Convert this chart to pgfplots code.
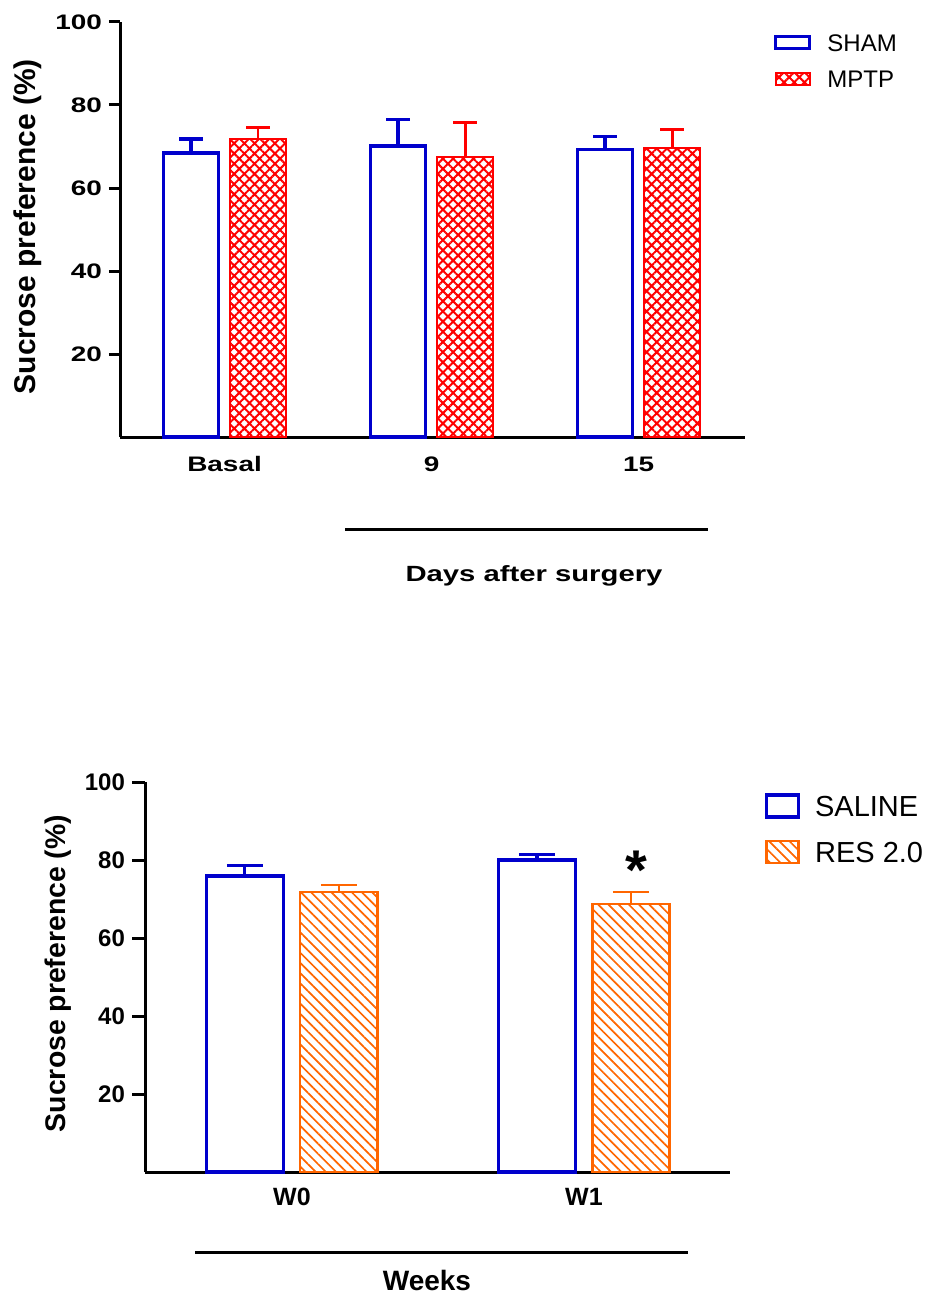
\documentclass[border=0pt]{standalone}
\usepackage{fontspec}
\setmainfont{Liberation Sans}
\newfontfamily\widesans[FakeStretch=1.33]{Liberation Sans}
\usepackage{pgfplots}
\pgfplotsset{compat=1.18}
\usetikzlibrary{patterns.meta}
\definecolor{gblue}{RGB}{0,0,204}
\definecolor{gred}{RGB}{255,0,0}
\definecolor{gorange}{RGB}{255,102,0}

\pgfplotsset{
 gpbase/.style={
  scale only axis, clip=false,
  axis lines=left, axis line style={-, line width=1.5pt, black},
  ymin=0, ymax=100, ytick={20,40,60,80,100},
  tick align=outside, ytick style={line width=1.5pt, black},
  xtick style={draw=none},
  /pgf/number format/assume math mode=true,
  legend cell align=left,
 }
}

\begin{document}
\begin{tikzpicture}
\path[use as bounding box] (0,0) rectangle (466.5pt,-647pt);

% ---------------- top panel ----------------
\begin{axis}[gpbase, at={(60pt,-218.5pt)}, anchor=south west,
 width=312.5pt, height=207.5pt,
 xmin=-0.505, xmax=2.514,
 xtick={0,1,2}, xticklabels={Basal,9,15},
 major tick length=5.5pt,
 yticklabel style={font=\fontsize{10.5}{12}\widesans\bfseries},
 xticklabel style={font=\fontsize{10.5}{12}\widesans\bfseries, anchor=base, yshift=-11.5pt},
 ylabel={Sucrose preference (\%)},
 ylabel style={font=\fontsize{15}{17}\selectfont\bfseries, at={(axis description cs:-0.147,0.507)}, anchor=center},
 legend image code/.code={\draw[#1] (0pt,-3pt) rectangle (17pt,3pt);},
 legend style={at={(axis description cs:1.046,0.972)}, anchor=north west, draw=none, fill=none, inner sep=0pt, row sep=9.75pt, column sep=8pt, font=\fontsize{12}{14}\selectfont, nodes={inner sep=0pt, text height=8.6pt, text depth=0pt}},
]
\addplot[ybar, bar width=0.268, bar shift=0, draw=gblue, fill=white, line width=1.65pt,
 error bars/.cd, y dir=plus, y explicit,
 error bar style={line width=1.6pt, gblue},
 error mark options={rotate=90, line width=1.6pt, gblue, mark size=6pt}]
 coordinates {(-0.162,68.4) +- (0,3.4) (0.838,70.1) +- (0,6.5) (1.838,69.2) +- (0,3.3)};
\addplot[ybar, bar width=0.268, bar shift=0, draw=gred, line width=1pt,
 pattern={Hatch[angle=45,distance=3.6pt,line width=1pt]}, pattern color=gred,
 error bars/.cd, y dir=plus, y explicit,
 error bar style={line width=1.4pt, gred},
 error mark options={rotate=90, line width=1.4pt, gred, mark size=6pt}]
 coordinates {(0.162,71.8) +- (0,2.7) (1.162,67.5) +- (0,8.2) (2.162,69.6) +- (0,4.4)};
\legend{SHAM, MPTP}
\draw[line width=1.5pt] (rel axis cs:0.36,-0.224) -- (rel axis cs:0.941,-0.224);
\node[font=\fontsize{11}{13}\widesans\bfseries, anchor=base] at (rel axis cs:0.6624,-0.347) {Days after surgery};
\end{axis}

% ---------------- bottom panel ----------------
\begin{axis}[gpbase, at={(72.5pt,-586pt)}, anchor=south west,
 width=292.5pt, height=195pt,
 xmin=-0.503, xmax=1.5,
 xtick={0,1}, xticklabels={W0,W1},
 major tick length=6.5pt,
 yticklabel style={font=\fontsize{12}{14}\selectfont\bfseries},
 xticklabel style={font=\fontsize{12.5}{14}\selectfont\bfseries, anchor=base, yshift=-10pt},
 ylabel={Sucrose preference (\%)},
 ylabel style={font=\fontsize{14.2}{16}\selectfont\bfseries, at={(axis description cs:-0.149,0.509)}, anchor=center},
 legend image code/.code={\draw[#1] (0pt,-5.5pt) rectangle (16pt,5.5pt);},
 legend style={at={(axis description cs:1.059,0.972)}, anchor=north west, draw=none, fill=none, inner sep=0pt, row sep=10.75pt, column sep=7.5pt, font=\fontsize{14.5}{16}\selectfont, nodes={inner sep=0pt, text height=10.4pt, text depth=0pt}},
]
\addplot[ybar, bar width=0.264, bar shift=0, draw=gblue, fill=white, line width=1.6pt,
 error bars/.cd, y dir=plus, y explicit,
 error bar style={line width=1.6pt, gblue},
 error mark options={rotate=90, line width=1.6pt, gblue, mark size=9pt}]
 coordinates {(-0.161,75.9) +- (0,2.6) (0.839,80.0) +- (0,1.5)};
\addplot[ybar, bar width=0.264, bar shift=0, draw=gorange, line width=1.1pt,
 pattern={Lines[angle=-45,distance=3.6pt,line width=0.85pt]}, pattern color=gorange,
 error bars/.cd, y dir=plus, y explicit,
 error bar style={line width=1.4pt, gorange},
 error mark options={rotate=90, line width=1.4pt, gorange, mark size=9pt}]
 coordinates {(0.161,71.8) +- (0,1.8) (1.161,68.7) +- (0,3.1)};
\legend{SALINE, RES 2.0}
\node[font=\fontsize{28}{30}\selectfont\bfseries, anchor=base] at (axis cs:1.178,72.5) {*};
\draw[line width=1.5pt] (rel axis cs:0.0855,-0.207) -- (rel axis cs:0.928,-0.207);
\node[font=\fontsize{14}{16}\selectfont\bfseries, anchor=base] at (rel axis cs:0.482,-0.304) {Weeks};
\end{axis}
\end{tikzpicture}
\end{document}
